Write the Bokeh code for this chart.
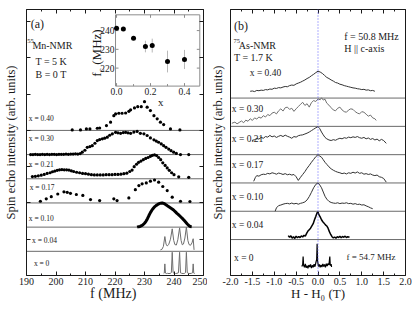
from bokeh.plotting import figure
from bokeh.models import (Range1d, LinearAxis, SingleIntervalTicker, FixedTicker,
                          CustomJSTickFormatter, NumeralTickFormatter, Span)
from bokeh.layouts import row
from bokeh.embed import file_html
from bokeh.resources import INLINE
from bokeh.core.properties import value

SERIF = "Liberation Serif"
INK = "#1a1a1a"

# ============ panel (a): 55Mn-NMR, T = 5 K, B = 0 T ============
a_names = ["x = 0", "x = 0.04", "x = 0.10", "x = 0.17", "x = 0.21", "x = 0.30", "x = 0.40"]

a00_f = [236.5, 236.7, 236.9, 237.1, 237.4, 237.8, 238.3, 238.8, 239.1, 239.4, 239.7, 240.0,
         240.5, 241.0, 241.5, 241.9, 242.2, 242.6, 243.1, 243.6, 243.9, 244.2, 244.5, 244.9,
         245.4, 245.9, 246.3, 246.5, 246.7, 247.0]
a00_i = [0.08, 0.10, 0.48, 0.10, 0.08, 0.09, 0.08, 0.09, 0.12, 0.96, 0.12, 0.09,
         0.08, 0.09, 0.11, 0.96, 0.11, 0.09, 0.08, 0.09, 0.12, 0.96, 0.12, 0.09,
         0.08, 0.09, 0.11, 0.48, 0.10, 0.08]

a04_f = [235.4, 235.9, 236.4, 236.9, 237.3, 237.7, 238.2, 238.8, 239.4, 239.9, 240.3, 240.8,
         241.3, 241.9, 242.4, 242.8, 243.2, 243.7, 244.2, 244.7, 245.1, 245.6, 246.1, 246.5, 246.8]
a04_i = [0.06, 0.08, 0.20, 0.61, 0.30, 0.22, 0.28, 0.50, 0.93, 0.45, 0.28, 0.26,
         0.48, 0.97, 0.45, 0.27, 0.30, 0.55, 1.00, 0.45, 0.28, 0.25, 0.35, 0.52, 0.06]

a10_f = [227.5, 228.0, 228.5, 229.0, 229.5, 230.0, 230.5, 231.0, 231.5, 232.0, 232.5, 233.0,
         233.5, 234.0, 234.5, 235.0, 235.5, 236.0, 236.5, 237.0, 237.5, 238.0, 238.5, 239.0,
         239.5, 240.0, 240.5, 241.0, 241.5, 242.0, 242.5, 243.0, 243.5, 244.0, 244.5, 245.0,
         245.5, 246.0]
a10_i = [0.00, 0.02, 0.03, 0.06, 0.10, 0.16, 0.24, 0.35, 0.48, 0.60, 0.70, 0.78,
         0.85, 0.90, 0.94, 0.97, 0.99, 1.00, 0.98, 0.95, 0.91, 0.86, 0.82, 0.78,
         0.74, 0.69, 0.63, 0.57, 0.52, 0.46, 0.40, 0.34, 0.27, 0.20, 0.13, 0.07,
         0.03, 0.02]

a17_f = [194.7, 196.7, 198.4, 200.6, 202.7, 203.8, 204.9, 206.9, 209.1, 211.7, 214.8, 219.6,
         220.7, 224.7, 226.9, 228.1, 229.2, 230.6, 232.0, 233.4, 234.8, 236.2, 237.7, 239.4,
         242.2, 245.4]
a17_i = [0.07, 0.17, 0.26, 0.37, 0.46, 0.44, 0.40, 0.35, 0.31, 0.14, 0.10, 0.17,
         0.10, 0.21, 0.55, 0.72, 0.79, 0.83, 0.90, 0.95, 0.86, 0.68, 0.51, 0.24,
         0.07, 0.06]

a21_f = [192.0, 193.0, 194.0, 195.0, 196.0, 197.0, 198.0, 198.8, 199.6, 200.4, 201.2, 202.0,
         202.8, 203.6, 204.4, 205.2, 206.0, 207.0, 208.0, 209.0, 210.0, 211.0, 212.0, 213.0,
         214.0, 215.0, 216.0, 217.0, 218.0, 219.0, 220.0, 221.0, 222.0, 223.0, 224.0, 225.0,
         225.8, 226.5, 227.3, 228.0, 228.8, 229.6, 230.4, 231.2, 232.0, 232.7, 233.4, 234.1,
         234.8, 235.5, 236.2, 237.0, 237.7, 238.4, 239.2, 240.0, 241.6, 245.0]
a21_i = [0.09, 0.10, 0.12, 0.15, 0.18, 0.22, 0.25, 0.29, 0.32, 0.35, 0.37, 0.38,
         0.37, 0.37, 0.36, 0.33, 0.30, 0.27, 0.25, 0.22, 0.21, 0.19, 0.17, 0.16,
         0.16, 0.16, 0.16, 0.17, 0.17, 0.17, 0.18, 0.18, 0.19, 0.21, 0.23, 0.30,
         0.36, 0.50, 0.60, 0.68, 0.73, 0.79, 0.84, 0.88, 0.93, 0.97, 0.99, 0.96,
         0.88, 0.79, 0.66, 0.55, 0.45, 0.35, 0.25, 0.17, 0.08, 0.06]

a30_f = [191.4, 192.2, 193.0, 193.8, 194.6, 195.4, 196.2, 197.0, 197.8, 198.6, 199.4, 200.2,
         201.0, 201.8, 202.6, 203.4, 204.2, 205.0, 205.8, 206.6, 207.4, 208.2, 208.9, 209.8,
         210.6, 211.5, 212.3, 213.2, 214.0, 214.8, 215.7, 216.5, 217.4, 218.2, 219.1, 220.2,
         221.0, 221.9, 222.8, 223.6, 224.4, 225.3, 226.4, 227.5, 228.6, 229.8, 230.9, 232.0,
         233.2, 234.0, 234.8, 235.7, 236.5, 237.3, 238.2, 239.0, 239.9, 240.8, 242.2, 245.0]
a30_i = [0.00, 0.00, 0.01, 0.00, 0.00, 0.01, 0.00, 0.01, 0.00, 0.01, 0.01, 0.00,
         0.01, 0.01, 0.01, 0.02, 0.01, 0.02, 0.02, 0.03, 0.02, 0.04, 0.10, 0.18,
         0.30, 0.33, 0.37, 0.47, 0.58, 0.62, 0.65, 0.68, 0.72, 0.80, 0.86, 0.92,
         0.90, 0.88, 0.91, 0.92, 0.90, 0.88, 0.93, 0.96, 0.88, 0.86, 0.79, 0.69,
         0.61, 0.56, 0.51, 0.44, 0.37, 0.30, 0.23, 0.16, 0.10, 0.05, 0.00, 0.00]

a40_f = [205.5, 208.3, 210.3, 211.5, 214.0, 214.8, 217.1, 218.5, 219.6, 220.2, 221.3, 222.4,
         223.6, 224.7, 225.3, 226.6, 227.7, 228.9, 230.0, 230.9, 232.0, 233.2, 234.3, 235.4,
         236.5, 238.8, 242.0]
a40_i = [0.02, 0.02, 0.06, 0.06, 0.09, 0.10, 0.20, 0.34, 0.61, 0.68, 0.71, 0.71,
         0.72, 0.79, 0.85, 0.93, 0.98, 0.98, 1.19, 0.96, 0.82, 0.61, 0.48, 0.34,
         0.24, 0.06, 0.02]

a_yticks = [1.5, 3.0, 4.5, 6.0, 7.5, 9.0, 10.5]

# ============ inset: centre frequency vs x ============
inset_x = [0.0, 0.04, 0.10, 0.17, 0.21, 0.30, 0.40]
inset_fc = [241.2, 240.9, 235.9, 231.5, 232.0, 223.5, 224.6]
inset_err = [0.0, 0.5, 0.6, 3.1, 3.7, 5.8, 5.1]
inset_xticks = [0.0, 0.2, 0.4]
inset_xtick_labels = ["0.0", "0.2", "0.4"]
inset_xminor = [0.1, 0.3]
inset_yticks = [220, 230, 240]
inset_ytick_labels = ["220", "230", "240"]

# ============ panel (b): 75As-NMR, f = 50.8 MHz, T = 1.7 K ============
b_names = ["x = 0", "x = 0.04", "x = 0.10", "x = 0.17", "x = 0.21", "x = 0.30", "x = 0.40"]

b00_h = [-0.37, -0.35, -0.34, -0.33, -0.31, -0.29, -0.27, -0.25, -0.23, -0.21, -0.19, -0.17,
         -0.15, -0.13, -0.11, -0.09, -0.07, -0.05, -0.03, -0.02, -0.01, 0.01, 0.03, 0.05,
         0.07, 0.09, 0.11, 0.13, 0.15, 0.17, 0.19, 0.21, 0.23, 0.25, 0.27, 0.28, 0.30, 0.31]
b00_i = [0.05, 0.12, 0.40, 0.10, 0.02, 0.14, 0.00, 0.08, -0.02, 0.10, 0.03, 0.12,
         -0.01, 0.09, 0.02, 0.13, 0.04, 0.18, 0.30, 0.85, 0.25, 0.05, 0.12, 0.02,
         0.10, 0.03, 0.14, 0.05, 0.12, 0.02, 0.15, 0.06, 0.16, 0.10, 0.40, 0.08, 0.13, 0.03]

b04_h = [-0.68, -0.65, -0.62, -0.59, -0.56, -0.53, -0.50, -0.47, -0.44, -0.41, -0.38, -0.35,
         -0.32, -0.29, -0.26, -0.23, -0.20, -0.17, -0.14, -0.11, -0.08, -0.05, -0.02, 0.00,
         0.02, 0.05, 0.08, 0.11, 0.14, 0.17, 0.20, 0.23, 0.26, 0.29, 0.32, 0.35,
         0.38, 0.41, 0.44, 0.47, 0.50, 0.53, 0.56, 0.59, 0.62, 0.65, 0.68, 0.72]
b04_i = [0.14, 0.08, 0.13, 0.05, 0.10, 0.04, 0.12, 0.06, 0.11, 0.07, 0.13, 0.09,
         0.15, 0.12, 0.22, 0.30, 0.35, 0.40, 0.48, 0.56, 0.70, 0.82, 0.95, 0.97,
         0.88, 0.80, 0.70, 0.63, 0.58, 0.52, 0.48, 0.40, 0.28, 0.18, 0.10, 0.06,
         0.09, 0.05, 0.10, 0.07, 0.12, 0.06, 0.11, 0.08, 0.12, 0.07, 0.10, 0.08]

b10_h = [-0.98, -0.95, -0.90, -0.85, -0.80, -0.75, -0.70, -0.65, -0.60, -0.55, -0.50, -0.45,
         -0.40, -0.35, -0.30, -0.25, -0.20, -0.15, -0.10, -0.05, 0.00, 0.04, 0.08, 0.12,
         0.16, 0.20, 0.25, 0.30, 0.35, 0.40, 0.45, 0.50, 0.55, 0.60, 0.65, 0.70,
         0.75, 0.80, 0.85, 0.90, 0.95, 1.00, 1.05, 1.10, 1.15, 1.20, 1.25]
b10_i = [0.00, 0.12, 0.20, 0.22, 0.25, 0.27, 0.28, 0.26, 0.29, 0.26, 0.28, 0.25,
         0.28, 0.30, 0.33, 0.40, 0.52, 0.67, 0.83, 0.95, 1.00, 0.93, 0.83, 0.68,
         0.53, 0.43, 0.35, 0.31, 0.29, 0.28, 0.30, 0.27, 0.29, 0.28, 0.30, 0.27,
         0.28, 0.25, 0.27, 0.24, 0.25, 0.22, 0.23, 0.19, 0.16, 0.12, 0.09]

b17_h = [-1.47, -1.43, -1.40, -1.35, -1.30, -1.25, -1.20, -1.15, -1.10, -1.05, -1.00, -0.95,
         -0.90, -0.85, -0.80, -0.75, -0.70, -0.65, -0.60, -0.55, -0.50, -0.45, -0.40, -0.35,
         -0.30, -0.25, -0.20, -0.15, -0.10, -0.05, 0.00, 0.04, 0.08, 0.12, 0.16, 0.20,
         0.25, 0.30, 0.35, 0.40, 0.45, 0.50, 0.55, 0.60, 0.65, 0.70, 0.75, 0.80,
         0.85, 0.90, 0.95, 1.00, 1.05, 1.10, 1.15, 1.20, 1.25, 1.30, 1.35, 1.40,
         1.45, 1.50, 1.56]
b17_i = [0.06, 0.20, 0.26, 0.24, 0.29, 0.31, 0.30, 0.34, 0.32, 0.36, 0.34, 0.31,
         0.35, 0.33, 0.30, 0.33, 0.29, 0.31, 0.28, 0.30, 0.22, 0.09, 0.20, 0.30,
         0.40, 0.52, 0.62, 0.73, 0.83, 0.93, 1.00, 0.95, 0.91, 0.82, 0.73, 0.66,
         0.57, 0.50, 0.45, 0.41, 0.38, 0.36, 0.33, 0.35, 0.32, 0.36, 0.34, 0.38,
         0.35, 0.39, 0.34, 0.36, 0.31, 0.33, 0.30, 0.32, 0.28, 0.26, 0.28, 0.22,
         0.20, 0.16, 0.03]

b21_h = [-1.51, -1.45, -1.40, -1.35, -1.30, -1.25, -1.20, -1.15, -1.10, -1.05, -1.00, -0.95,
         -0.90, -0.85, -0.80, -0.75, -0.70, -0.65, -0.60, -0.55, -0.50, -0.45, -0.40, -0.35,
         -0.30, -0.25, -0.20, -0.15, -0.10, -0.05, 0.00, 0.04, 0.08, 0.12, 0.16, 0.20,
         0.25, 0.30, 0.35, 0.40, 0.45, 0.50, 0.55, 0.60, 0.65, 0.70, 0.75, 0.80,
         0.85, 0.90, 0.95, 1.00, 1.05, 1.10, 1.15, 1.20, 1.25, 1.30, 1.35, 1.40,
         1.45, 1.50, 1.56]
b21_i = [0.50, 0.53, 0.57, 0.55, 0.61, 0.58, 0.64, 0.62, 0.68, 0.63, 0.66, 0.61,
         0.65, 0.68, 0.64, 0.69, 0.65, 0.62, 0.58, 0.64, 0.62, 0.67, 0.69, 0.70,
         0.73, 0.76, 0.80, 0.85, 0.90, 0.95, 0.99, 0.92, 0.80, 0.70, 0.61, 0.56,
         0.52, 0.50, 0.53, 0.51, 0.55, 0.58, 0.56, 0.60, 0.58, 0.62, 0.60, 0.63,
         0.61, 0.64, 0.60, 0.58, 0.61, 0.56, 0.59, 0.54, 0.57, 0.52, 0.55, 0.49,
         0.54, 0.50, 0.40]

b30_h = [-1.97, -1.90, -1.85, -1.80, -1.75, -1.70, -1.65, -1.60, -1.55, -1.50, -1.45, -1.40,
         -1.35, -1.30, -1.25, -1.20, -1.15, -1.10, -1.05, -1.00, -0.95, -0.90, -0.85, -0.80,
         -0.75, -0.70, -0.65, -0.60, -0.55, -0.50, -0.45, -0.40, -0.35, -0.30, -0.25, -0.20,
         -0.15, -0.10, -0.05, 0.00, 0.05, 0.08, 0.12, 0.16, 0.20, 0.25, 0.30, 0.35,
         0.40, 0.45, 0.50, 0.55, 0.60, 0.65, 0.70, 0.75, 0.80, 0.85, 0.90, 0.95,
         1.00, 1.05, 1.10, 1.15, 1.20, 1.25, 1.30, 1.33]
b30_i = [0.11, 0.15, 0.09, 0.14, 0.19, 0.13, 0.22, 0.18, 0.27, 0.21, 0.30, 0.26,
         0.33, 0.29, 0.38, 0.33, 0.42, 0.38, 0.47, 0.50, 0.44, 0.55, 0.62, 0.54,
         0.66, 0.68, 0.60, 0.64, 0.53, 0.62, 0.70, 0.78, 0.85, 0.74, 0.80, 0.68,
         0.84, 0.91, 0.88, 0.97, 0.94, 1.01, 0.93, 0.96, 0.82, 0.75, 0.66, 0.58,
         0.55, 0.64, 0.68, 0.58, 0.52, 0.50, 0.58, 0.62, 0.60, 0.52, 0.47, 0.44,
         0.52, 0.50, 0.43, 0.36, 0.40, 0.30, 0.27, 0.21]

b40_h = [-1.55, -1.50, -1.45, -1.40, -1.35, -1.30, -1.25, -1.20, -1.15, -1.10, -1.05, -1.00,
         -0.95, -0.90, -0.85, -0.80, -0.75, -0.70, -0.65, -0.60, -0.55, -0.50, -0.45, -0.40,
         -0.35, -0.30, -0.25, -0.20, -0.15, -0.10, -0.05, 0.00, 0.05, 0.10, 0.15, 0.20,
         0.25, 0.30, 0.35, 0.40, 0.45, 0.50, 0.55, 0.60, 0.65, 0.70, 0.75, 0.80,
         0.85, 0.90, 0.95, 1.00, 1.05, 1.10, 1.15, 1.20, 1.25, 1.30]
b40_i = [0.24, 0.25, 0.23, 0.27, 0.26, 0.28, 0.27, 0.30, 0.29, 0.32, 0.31, 0.35,
         0.34, 0.37, 0.36, 0.39, 0.41, 0.40, 0.44, 0.46, 0.45, 0.50, 0.53, 0.56,
         0.60, 0.64, 0.69, 0.73, 0.79, 0.84, 0.90, 0.95, 0.92, 0.87, 0.80, 0.73,
         0.69, 0.64, 0.60, 0.55, 0.53, 0.49, 0.47, 0.44, 0.42, 0.40, 0.38, 0.36,
         0.35, 0.33, 0.32, 0.30, 0.31, 0.28, 0.29, 0.26, 0.27, 0.24]

# ---------------- layout constants ----------------
H = 311
WA, WB = 207, 207
STEP = 1.0   # vertical offset between stacked spectra

blank = CustomJSTickFormatter(code="return ''")


def frame_axes(p, xticker, xformatter, xlabel, ylabel, label_size, ylab_standoff, yticks):
    p.grid.visible = False
    p.outline_line_color = None
    p.background_fill_color = "white"
    xa, ya = p.xaxis[0], p.yaxis[0]
    top = LinearAxis(ticker=xticker, formatter=blank)
    right = LinearAxis(ticker=FixedTicker(ticks=yticks), formatter=blank)
    p.add_layout(top, "above")
    p.add_layout(right, "right")
    xa.ticker = xticker
    xa.formatter = xformatter
    ya.ticker = FixedTicker(ticks=yticks)
    ya.formatter = blank
    for ax in (xa, ya, top, right):
        ax.axis_line_color = INK
        ax.axis_line_width = 1
        ax.major_tick_line_color = INK
        ax.minor_tick_line_color = INK
        ax.major_tick_in = 4
        ax.major_tick_out = 0
        ax.minor_tick_in = 2
        ax.minor_tick_out = 0
    for ax in (ya, top, right):
        ax.major_label_text_font_size = "1px"
        ax.major_label_standoff = 0
    xa.major_label_text_font = SERIF
    xa.major_label_text_font_size = "10px"
    xa.major_label_text_color = INK
    xa.major_label_standoff = 2
    xa.axis_label = xlabel
    xa.axis_label_text_font = SERIF
    xa.axis_label_text_font_size = label_size
    xa.axis_label_text_font_style = "normal"
    xa.axis_label_text_color = INK
    xa.axis_label_standoff = -2
    ya.axis_label = ylabel
    ya.axis_label_text_font = SERIF
    ya.axis_label_text_font_size = "12.5px"
    ya.axis_label_text_font_style = "normal"
    ya.axis_label_text_color = INK
    ya.axis_label_standoff = ylab_standoff


def txt(p, x, y, s, size, align="left", color=INK, angle=0.0, **kw):
    p.text(x=x, y=y, text=s, text_font=value(SERIF), text_font_size=value(size),
           text_align=align, text_baseline="middle", text_color=color, angle=angle, **kw)


def shift(vals, k):
    return [v + k * STEP for v in vals]


# ======================= panel (a) =======================
pa = figure(width=WA, height=H, x_range=Range1d(190, 250), y_range=Range1d(0, 11),
            output_backend="svg", toolbar_location=None,
            min_border_left=26, min_border_right=4, min_border_top=9, min_border_bottom=36)
frame_axes(pa, SingleIntervalTicker(interval=10, num_minor_ticks=2),
           NumeralTickFormatter(format="0"), "f  (MHz)",
           "Spin echo intensity (arb. units)", "14px", 9, a_yticks)

for k in range(1, 7):
    pa.line(x=[190, 250], y=[k * STEP, k * STEP], line_color="#6a6a6a", line_width=1)

pa.line(a00_f, shift(a00_i, 0), line_color="#6e6e6e", line_width=1)
pa.line(a04_f, shift(a04_i, 1), line_color="#6e6e6e", line_width=1)
pa.line(a10_f, shift(a10_i, 2), line_color="black", line_width=3)
for f, i, k in [(a17_f, a17_i, 3), (a21_f, a21_i, 4), (a30_f, a30_i, 5), (a40_f, a40_i, 6)]:
    pa.scatter(f, shift(i, k), size=3.2, color="black", line_color=None)

a_lab_x = [192.5, 191.9, 190.8, 191.1, 190.8, 190.8, 190.8]
a_lab_y = [0.50, 0.45, 0.36, 0.64, 0.59, 0.66, 0.49]
txt(pa, a_lab_x, [y + k * STEP for k, y in enumerate(a_lab_y)], a_names, "7.5px")

txt(pa, [191.4], [10.41], ["(a)"], "12px")
txt(pa, [190.25], [9.68], ["55"], "6.5px")
txt(pa, [192.0], [9.52], ["Mn-NMR"], "10px")
txt(pa, [193.05], [8.84], ["T = 5 K"], "10px")
txt(pa, [193.05], [8.33], ["B = 0 T"], "10px")

# ---- inset drawn with its own ranges inside panel (a) ----
FX0, FX1 = 0.503, 0.979      # inset box as fraction of the frame width
FY0, FY1 = 0.712, 0.980      # inset box as fraction of the frame height
IX0, IX1 = -0.006, 0.49
IY0, IY1 = 210.4, 248.4
sx = (IX1 - IX0) / (FX1 - FX0)
sy = (IY1 - IY0) / (FY1 - FY0)
pa.extra_x_ranges = {"ix": Range1d(IX0 - FX0 * sx, IX0 + (1 - FX0) * sx)}
pa.extra_y_ranges = {"iy": Range1d(IY0 - FY0 * sy, IY0 + (1 - FY0) * sy)}
ins = dict(x_range_name="ix", y_range_name="iy")
GREY = "#8c8c8c"

pa.quad(left=[IX0], right=[IX1], bottom=[IY0], top=[IY1], fill_color="white",
        line_color=GREY, line_width=1, **ins)
pa.ray(x=inset_xticks, y=[IY0] * 3, length=3, length_units="screen", angle=1.5708,
       line_color=GREY, **ins)
pa.ray(x=inset_xticks, y=[IY1] * 3, length=3, length_units="screen", angle=-1.5708,
       line_color=GREY, **ins)
pa.ray(x=inset_xminor, y=[IY0] * 2, length=2, length_units="screen", angle=1.5708,
       line_color=GREY, **ins)
pa.ray(x=[IX0] * 3, y=inset_yticks, length=3, length_units="screen", angle=0,
       line_color=GREY, **ins)
pa.ray(x=[IX1] * 3, y=inset_yticks, length=3, length_units="screen", angle=3.14159,
       line_color=GREY, **ins)
pa.segment(x0=inset_x, y0=[c - e for c, e in zip(inset_fc, inset_err)],
           x1=inset_x, y1=[c + e for c, e in zip(inset_fc, inset_err)],
           line_color="#b8b8b8", line_width=1, **ins)
pa.scatter(inset_x, inset_fc, size=5, color="black", line_color=None, **ins)

pa.text(x=[IX0] * 3, y=inset_yticks, text=inset_ytick_labels, text_font=value(SERIF),
        text_font_size=value("9.5px"), text_align="right", text_baseline="middle",
        x_offset=-1, text_color=INK, **ins)
pa.text(x=inset_xticks, y=[207.6] * 3, text=inset_xtick_labels, text_font=value(SERIF),
        text_font_size=value("9.5px"), text_align="center", text_baseline="middle",
        text_color=INK, **ins)
pa.text(x=[0.26], y=[201.9], text=["x"], text_font=value(SERIF),
        text_font_size=value("11px"), text_align="center", text_baseline="middle",
        text_color=INK, **ins)
# rotated inset title  f_c (MHz)
pa.text(x=[IX0], y=[215.4], text=["f"], text_font=value(SERIF), text_font_size=value("13px"),
        text_align="left", text_baseline="middle", angle=1.5708, x_offset=-19,
        text_color=INK, **ins)
pa.text(x=[IX0], y=[217.9], text=["c"], text_font=value(SERIF), text_font_size=value("8px"),
        text_align="left", text_baseline="middle", angle=1.5708, x_offset=-14,
        text_color=INK, **ins)
pa.text(x=[IX0], y=[221.8], text=["(MHz)"], text_font=value(SERIF), text_font_size=value("13px"),
        text_align="left", text_baseline="middle", angle=1.5708, x_offset=-19,
        text_color=INK, **ins)

# ======================= panel (b) =======================
pb = figure(width=WB, height=H, x_range=Range1d(-2.0, 2.0), y_range=Range1d(-0.27, 9.13),
            output_backend="svg", toolbar_location=None,
            min_border_left=21, min_border_right=9, min_border_top=9, min_border_bottom=36)
frame_axes(pb, SingleIntervalTicker(interval=0.5, num_minor_ticks=2),
           NumeralTickFormatter(format="0.0"), "H - H\u2080 (T)",
           "Spin echo intensity (arb. units)", "13px", 6, [])

for k in range(1, 7):
    pb.line(x=[-2, 2], y=[k * STEP, k * STEP], line_color="#6a6a6a", line_width=1)
pb.add_layout(Span(location=0, dimension="height", line_color="#5f5fff",
                   line_dash="1 2", line_width=1))

series_b = [(b00_h, b00_i, 0, "black", 1.2), (b04_h, b04_i, 1, "black", 1.5),
            (b10_h, b10_i, 2, "#333333", 1), (b17_h, b17_i, 3, "#333333", 1),
            (b21_h, b21_i, 4, "#333333", 1), (b30_h, b30_i, 5, "#707070", 1),
            (b40_h, b40_i, 6, "#333333", 1)]
for h, i, k, c, w in series_b:
    pb.line(h, shift(i, k), line_color=c, line_width=w)

b_lab_x = [-1.92, -1.97, -1.97, -1.97, -1.97, -1.97, -1.56]
b_lab_y = [0.36, 0.50, 0.50, 0.62, 0.57, 0.63, 0.87]
txt(pb, b_lab_x, [y + k * STEP for k, y in enumerate(b_lab_y)], b_names, "9.5px")

txt(pb, [-1.92], [8.53], ["(b)"], "12px")
txt(pb, [-1.93], [8.00], ["75"], "6.5px")
txt(pb, [-1.81], [7.87], ["As-NMR"], "10px")
txt(pb, [-1.92], [7.43], ["T = 1.7 K"], "10px")
txt(pb, [0.60], [8.18], ["f = 50.8 MHz"], "10px")
txt(pb, [0.60], [7.75], ["H || c-axis"], "10px")
txt(pb, [0.65], [0.37], ["f = 54.7 MHz"], "9px")

layout = row(pa, pb)
open("out.html", "w").write(file_html(layout, INLINE))
